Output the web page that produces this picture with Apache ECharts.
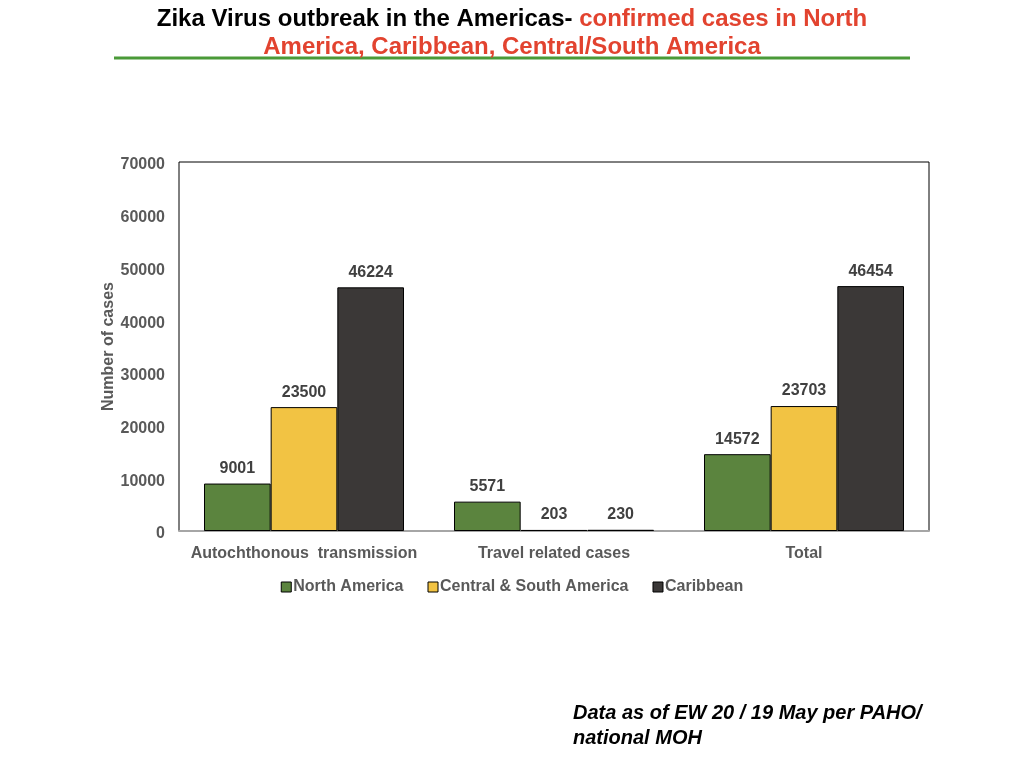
<!DOCTYPE html>
<html>
<head>
<meta charset="utf-8">
<script src="https://cdn.jsdelivr.net/npm/echarts@6/dist/echarts.min.js"></script>
<style>
  html, body { margin: 0; padding: 0; background: #fff; }
  #chart { width: 1024px; height: 768px; }
</style>
</head>
<body>
<div id="chart"></div>
<script>
var categories = ['Autochthonous  transmission', 'Travel related cases', 'Total'];
var seriesNames = ['North America', 'Central & South America', 'Caribbean'];
var northAmerica = [9001, 5571, 14572];
var centralSouth = [23500, 203, 23703];
var caribbean = [46224, 230, 46454];
var yTicks = { min: 0, max: 70000, interval: 10000 };

var colors = ['#5b843e', '#f2c343', '#3b3837'];
var font = 'Liberation Sans, Arial, sans-serif';

var myChart = echarts.init(document.getElementById('chart'));

function barSeries(name, data, color) {
  return {
    name: name,
    type: 'bar',
    data: data,
    barGap: '0%',
    barCategoryGap: '20%',
    itemStyle: { color: color, borderColor: '#000', borderWidth: 1 },
    label: {
      show: true,
      position: 'top',
      distance: 7,
      color: '#404040',
      fontWeight: 'bold',
      fontSize: 16,
      fontFamily: font
    }
  };
}

var option = {
  animation: false,
  backgroundColor: '#fff',
  textStyle: { fontFamily: font },
  title: {
    left: 'center',
    top: 0,
    text: '{a|Zika Virus outbreak in the Americas- }{b|confirmed cases in North}\n{b|America, Caribbean, Central/South America}',
    textStyle: {
      rich: {
        a: { color: '#000', fontSize: 24, fontWeight: 'bold', fontFamily: font, lineHeight: 28 },
        b: { color: '#e2432f', fontSize: 24, fontWeight: 'bold', fontFamily: font, lineHeight: 28 }
      }
    }
  },
  grid: {
    left: 179,
    top: 162,
    right: 95,
    bottom: 237,
    show: true,
    borderColor: '#000',
    borderWidth: 1
  },
  legend: {
    data: seriesNames,
    left: 'center',
    top: 574,
    icon: 'rect',
    itemWidth: 10,
    itemHeight: 10,
    itemGap: 24,
    textStyle: { color: '#595959', fontWeight: 'bold', fontSize: 16, fontFamily: font, padding: [0, 0, 0, -3] },
    itemStyle: { borderColor: '#000', borderWidth: 1 }
  },
  xAxis: {
    type: 'category',
    data: categories,
    axisLine: { lineStyle: { color: '#a6a6a6', width: 2 } },
    axisTick: { show: false },
    axisLabel: { interval: 0, color: '#595959', fontWeight: 'bold', fontSize: 16, margin: 15, fontFamily: font }
  },
  yAxis: {
    type: 'value',
    min: yTicks.min,
    max: yTicks.max,
    interval: yTicks.interval,
    name: 'Number of cases',
    nameLocation: 'middle',
    nameGap: 62,
    nameMoveOverlap: false,
    nameTextStyle: { color: '#595959', fontWeight: 'bold', fontSize: 16, fontFamily: font },
    axisLine: { show: false },
    axisTick: { show: false },
    splitLine: { show: false },
    axisLabel: {
      color: '#595959', fontWeight: 'bold', fontSize: 16, margin: 14, fontFamily: font,
      verticalAlign: 'top',
      lineHeight: 6,
      formatter: function (v) { return String(v); }
    }
  },
  graphic: [
    {
      type: 'line',
      shape: { x1: 114, y1: 58, x2: 910, y2: 58 },
      style: { stroke: '#4a9a38', lineWidth: 3 }
    },
    {
      type: 'text',
      left: 573,
      top: 701,
      style: {
        text: 'Data as of EW 20 / 19 May per PAHO/\nnational MOH',
        fill: '#000',
        font: 'italic bold 20px ' + font,
        lineHeight: 25
      }
    }
  ],
  series: [
    barSeries(seriesNames[0], northAmerica, colors[0]),
    barSeries(seriesNames[1], centralSouth, colors[1]),
    barSeries(seriesNames[2], caribbean, colors[2])
  ]
};

myChart.setOption(option);
</script>
</body>
</html>
